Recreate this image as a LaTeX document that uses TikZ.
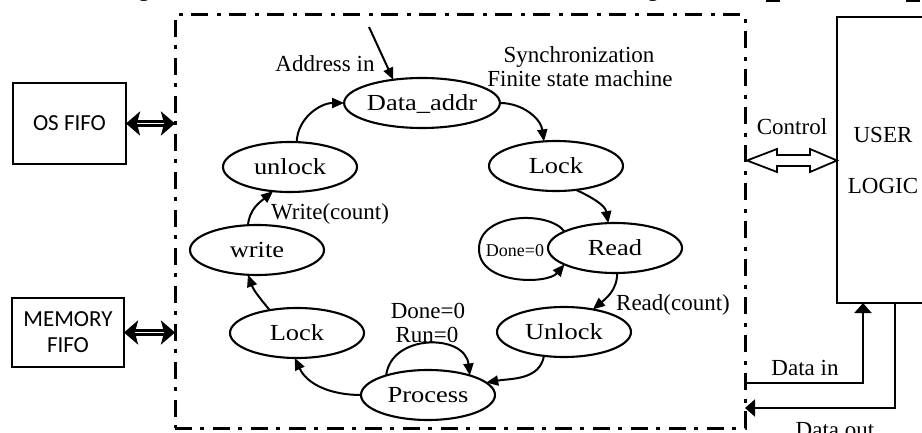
\documentclass[tikz,border=0pt]{standalone}
\usepackage{fontspec}
\setmainfont{Liberation Serif}
\newfontfamily\statefont{Liberation Serif}[FakeStretch=1.15]
\newfontfamily\fifofont{Carlito}
\usetikzlibrary{arrows.meta,shapes.geometric,calc}

\begin{document}
\begin{tikzpicture}[x=1pt,y=-1pt,
  every node/.style={inner sep=0pt, outer sep=0pt},
  state/.style={ellipse, draw, line width=2.1pt, minimum width=134pt, minimum height=50pt,
    text height=15pt, text depth=0pt, font=\statefont\fontsize{23}{27}\selectfont},
  lbl/.style={anchor=base, font=\fontsize{23}{27}\selectfont},
  smalllbl/.style={anchor=base, font=\fontsize{18}{21}\selectfont},
  fifobox/.style={draw, line width=2.2pt, align=center,
    font=\fifofont\fontsize{23}{26}\selectfont},
  arr/.style={line width=2pt, -{Triangle[length=12pt,width=10pt]}},
  busarr/.style={line width=2.7pt, double, double distance=1.6pt,
    {Stealth[length=14pt,width=24pt,inset=3pt]}-{Stealth[length=14pt,width=24pt,inset=3pt]}},
  dataarr/.style={line width=2pt, -{Triangle[length=10pt,width=17pt]}},
  hollowarr/.style={line width=1.8pt, line join=miter},
  frame/.style={draw, line width=3pt, dash pattern=on 17pt off 8pt on 4pt off 9pt},
  cutmark/.style={line width=1.8pt}
]
\useasboundingbox (0,0) rectangle (922,433);

% caption line cut off above
\node[lbl] (capg1) at (144,-3) {g};
\node[lbl] (capg2) at (653,-3) {g};
\draw[cutmark] (766,1) -- (780,1);
\draw[cutmark] (906,1) -- (920,1);

% dash-dot frame round the state machine
\node[frame, minimum width=570pt, minimum height=413pt] (fsm) at (460,221.5) {};

% side blocks
\node[fifobox, minimum width=113pt, minimum height=81pt] (osfifo) at (69.5,123.5) {OS FIFO};
\node[fifobox, minimum width=112pt, minimum height=69pt] (memfifo) at (68,332.5) {MEMORY\\FIFO};
\node[draw, line width=2.2pt, minimum width=110pt, minimum height=286pt, anchor=north west] (user) at (837,17) {};
\node[lbl] (userlbl) at (883,143) {USER};
\node[lbl] (logiclbl) at (883,194) {LOGIC};

\draw[busarr] (osfifo.east) -- (osfifo.east -| fsm.west);
\draw[busarr] (memfifo.east) -- (memfifo.east -| fsm.west);

% control link
\coordinate (ctlL) at (747,160.5);
\coordinate (ctlR) at (user.west |- ctlL);
\draw[hollowarr] (ctlL) -- ++(30,-11.5) -- ++(0,6) -- ++(33,0) -- ++(0,-6) -- (ctlR)
  -- ($(ctlR)+(-27,11.5)$) -- ++(0,-6) -- ++(-33,0) -- ++(0,6) -- cycle;
\node[lbl] (ctllbl) at (792,135) {Control};

% data links
\coordinate (din) at (fsm.east |- 0,383);
\coordinate (dout) at (fsm.east |- 0,408);
\draw[dataarr] (din) -| ($(user.south west)+(26,0)$);
\draw[dataarr] ($(user.south west)+(58,0)$) |- (dout);
\node[lbl] (dinlbl) at (805,375) {Data in};
\node[lbl] (doutlbl) at (835,437) {Data out};

% states
\node[state] (daddr) at (422,103) {Data\_addr};
\node[state] (lockA) at (556,166) {Lock};
\node[state] (read) at (615,248) {Read};
\node[state] (unlockB) at (564,332) {Unlock};
\node[state] (process) at (428,395) {Process};
\node[state] (lockB) at (297,333) {Lock};
\node[state] (write) at (257,250) {write};
\node[state] (unlockA) at (290,167) {unlock};

\node[lbl] (sync1) at (579,63) {Synchronization};
\node[lbl] (sync2) at (580,87) {Finite state machine};

% entry
\coordinate (entry) at (369,27);
\node[lbl] (addrlbl) at (325,72) {Address in};
\draw[arr] (entry) -- (daddr.141);

% transitions
\draw[arr] (unlockA.75) to[out=88,in=180] (daddr.west);
\draw[arr] (daddr.east) to[out=0,in=98] (lockA.116);
\draw[arr] (lockA.-50) to[out=-25,in=100] (read.105);
\coordinate (readloop) at (479,249);
\draw[arr] (read.162) .. controls +(-15,-21) and +(0,-37) .. (readloop)
  .. controls +(0,36) and +(-17,20) .. (read.198);
\node[smalllbl] (readlooplbl) at (515,257) {Done=0};
\draw[arr] (read.-85) to[out=-90,in=40] (unlockB.38);
\node[lbl] (readcnt) at (673,310) {Read(count)};
\draw[arr] (unlockB.-130) to[out=-100,in=10] (process.12);
\draw[arr] (process.155) .. controls +(5,-42) and +(-5,-42) .. (process.25);
\node[lbl] (procl1) at (428,318) {Done=0};
\node[lbl] (procl2) at (427,342) {Run=0};
\draw[arr] (process.west) to[out=180,in=-65] (lockB.-95);
\draw[arr] (lockB.140) to[out=130,in=-70] (write.-110);
\draw[arr] (write.110) to[out=85,in=-140] (unlockA.-125);
\node[lbl] (writecnt) at (330,220) {Write(count)};
\end{tikzpicture}
\end{document}
